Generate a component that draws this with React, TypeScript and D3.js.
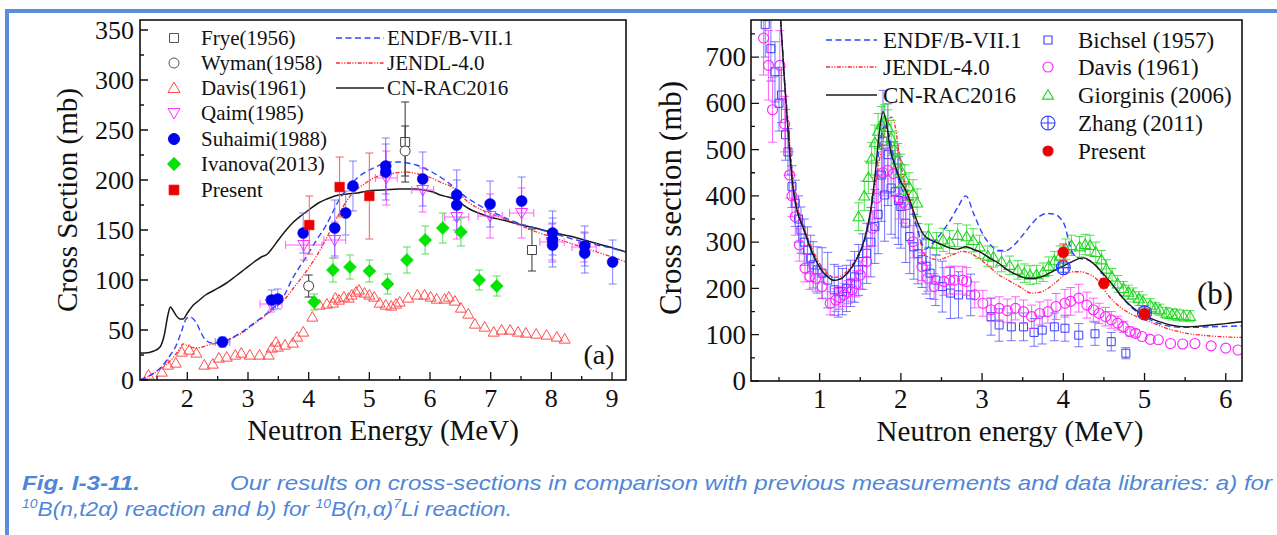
import React, { useEffect, useRef } from "react";
import * as d3 from "d3";

// ================= Panel (a): 10B(n,t2α) =================
const aXDomain: [number, number] = [1.22, 9.23];
const aYDomain: [number, number] = [0, 360];
const aXTicks = [2, 3, 4, 5, 6, 7, 8, 9];
const aXMinor = [1.5, 2.5, 3.5, 4.5, 5.5, 6.5, 7.5, 8.5];
const aYTicks = [0, 50, 100, 150, 200, 250, 300, 350];
const aYMinor = [25, 75, 125, 175, 225, 275, 325];

// [E, sigma, dSigma, dE]
const fryeA = [[5.59, 238, 40, 0], [7.68, 130, 21, 0]];
const wymanA = [[4.0, 94, 11, 0.06], [5.59, 229, 25, 0]];
// [E, sigma]
const davisA = [
  [1.36, 5], [1.58, 8], [1.68, 15], [1.81, 17], [1.91, 28], [2.03, 30], [2.15, 27], [2.28, 15],
  [2.42, 16], [2.52, 22], [2.65, 23], [2.79, 25], [2.89, 27], [3.03, 25], [3.19, 25], [3.34, 25],
  [3.39, 32], [3.46, 38], [3.49, 33], [3.61, 35], [3.74, 37], [3.81, 43], [3.91, 48], [4.06, 63],
  [4.18, 75], [4.30, 76], [4.40, 77], [4.44, 82], [4.50, 80], [4.58, 83], [4.66, 82], [4.71, 85],
  [4.78, 88], [4.83, 90], [4.92, 87], [5.00, 85], [5.08, 83], [5.17, 77], [5.27, 75], [5.36, 74],
  [5.44, 76], [5.50, 78], [5.64, 82], [5.79, 85], [5.91, 85], [6.01, 83], [6.11, 81], [6.24, 81],
  [6.31, 83], [6.41, 79], [6.51, 72], [6.63, 66], [6.74, 56], [6.90, 53], [7.05, 48], [7.18, 50],
  [7.32, 50], [7.45, 48], [7.58, 47], [7.75, 46], [7.92, 45], [8.09, 43], [8.22, 41],
];
const qaimA = [
  [3.38, 76, 8, 0.18], [3.92, 135, 15, 0.3], [4.43, 140, 18, 0.18], [5.28, 202, 27, 0.18],
  [5.88, 190, 22, 0.18], [6.44, 163, 22, 0.2], [6.99, 164, 22, 0.2], [7.51, 167, 25, 0.2],
  [8.01, 138, 18, 0.2], [8.54, 133, 15, 0.2],
];
const suhaimiA = [
  [2.58, 38, 5, 0.12], [3.39, 80, 10, 0.08], [3.49, 81, 10, 0.08], [3.91, 147, 20, 0.05],
  [4.43, 152, 28, 0.05], [4.61, 167, 22, 0.05], [4.73, 194, 25, 0.05], [5.27, 214, 28, 0.05],
  [5.27, 208, 28, 0.05], [5.88, 201, 27, 0.05], [6.44, 185, 25, 0.05], [6.44, 175, 25, 0.05],
  [6.99, 176, 23, 0.05], [7.51, 179, 24, 0.05], [8.02, 147, 22, 0.05], [8.02, 140, 22, 0.05],
  [8.02, 135, 22, 0.05], [8.55, 134, 20, 0.05], [8.55, 127, 20, 0.05], [9.01, 118, 22, 0.05],
];
const ivanovaA = [
  [4.09, 78, 8], [4.40, 110, 12], [4.68, 113, 12], [5.0, 109, 11], [5.30, 96, 10], [5.62, 120, 13],
  [5.92, 140, 14], [6.21, 152, 15], [6.51, 148, 14], [6.81, 100, 10], [7.1, 94, 10],
];
const presentA = [[4.01, 155, 29], [4.51, 193, 30], [5.0, 184, 43]];

const endfA = [
  [1.22, 0], [1.3, 2], [1.45, 7], [1.6, 15], [1.72, 25], [1.82, 35], [1.9, 48], [1.97, 60], [2.03, 63],
  [2.1, 61], [2.16, 56], [2.22, 48], [2.3, 40], [2.4, 37], [2.55, 37], [2.7, 41], [2.9, 48], [3.1, 57],
  [3.3, 66], [3.45, 74], [3.6, 85], [3.72, 100], [3.85, 113], [3.95, 122], [4.13, 140], [4.3, 156],
  [4.39, 167], [4.5, 180], [4.66, 193], [4.8, 202], [4.94, 208], [5.1, 213], [5.21, 216], [5.35, 218],
  [5.49, 218], [5.63, 217], [5.77, 215], [5.9, 212], [6.03, 208], [6.17, 203], [6.31, 197], [6.45, 190],
  [6.59, 183], [6.72, 178], [6.86, 173], [7.1, 166], [7.4, 158], [7.67, 153], [7.95, 148], [8.23, 143],
  [8.6, 137], [9.05, 131], [9.23, 128],
];
const jendlA = [
  [1.22, 0], [1.4, 5], [1.55, 11], [1.7, 18], [1.8, 25], [1.88, 32], [1.93, 36], [1.98, 35], [2.05, 33],
  [2.15, 32], [2.25, 33], [2.35, 35], [2.5, 37], [2.7, 41], [2.9, 47], [3.1, 56], [3.3, 65], [3.5, 75],
  [3.65, 84], [3.75, 92], [3.88, 102], [4.0, 112], [4.12, 123], [4.25, 137], [4.39, 153], [4.5, 166],
  [4.66, 182], [4.8, 191], [4.94, 197], [5.07, 202], [5.21, 205], [5.4, 207], [5.6, 208], [5.8, 206],
  [6.03, 202], [6.2, 197], [6.36, 193], [6.5, 185], [6.65, 177], [6.86, 170], [7.1, 164], [7.4, 157],
  [7.67, 150], [8.0, 143], [8.25, 138], [8.5, 133], [8.75, 128], [9.05, 122], [9.23, 118],
];
const cnracA = [
  [1.22, 27], [1.3, 27], [1.45, 29], [1.55, 33], [1.62, 45], [1.68, 65], [1.72, 73], [1.76, 70],
  [1.81, 65], [1.88, 61], [1.93, 61], [2.0, 67], [2.1, 75], [2.2, 80], [2.3, 85], [2.45, 90],
  [2.62, 96], [2.8, 104], [2.95, 111], [3.1, 118], [3.22, 123], [3.32, 126], [3.39, 131], [3.5, 140],
  [3.63, 150], [3.75, 158], [3.89, 165], [4.0, 170], [4.16, 177], [4.3, 181], [4.43, 184], [4.63, 186],
  [4.8, 187], [4.97, 189], [5.2, 190], [5.5, 191], [5.75, 191], [5.9, 190], [6.05, 188], [6.17, 185],
  [6.3, 183], [6.44, 180], [6.55, 175], [6.65, 171], [6.8, 167], [6.98, 163], [7.2, 160], [7.45, 156],
  [7.8, 151], [8.06, 147], [8.3, 144], [8.6, 139], [8.9, 134], [9.23, 128],
];

// ================= Panel (b): 10B(n,α)7Li =================
const bXDomain: [number, number] = [0.155, 6.2];
const bYDomain: [number, number] = [0, 780];
const bXTicks = [1, 2, 3, 4, 5, 6];
const bXMinor = [0.5, 1.5, 2.5, 3.5, 4.5, 5.5];
const bYTicks = [0, 100, 200, 300, 400, 500, 600, 700];
const bYMinor = [50, 150, 250, 350, 450, 550, 650, 750];

const bichselB = [
  [0.33, 770, 70], [0.40, 718, 70], [0.45, 668, 65], [0.50, 600, 60], [0.53, 618, 60], [0.58, 532, 55],
  [0.61, 495, 50], [0.66, 420, 45], [0.70, 384, 50], [0.74, 350, 50], [0.77, 326, 50], [0.81, 300, 50],
  [0.85, 283, 50], [0.89, 265, 50], [0.92, 251, 50], [0.97, 240, 50], [1.03, 233, 55], [1.10, 218, 60],
  [1.18, 197, 55], [1.23, 193, 55], [1.28, 193, 50], [1.33, 200, 50], [1.38, 211, 50], [1.43, 225, 55],
  [1.48, 240, 55], [1.53, 258, 60], [1.58, 276, 65], [1.63, 300, 75], [1.68, 334, 80], [1.72, 360, 85],
  [1.76, 445, 100], [1.78, 518, 110], [1.80, 402, 100], [1.84, 489, 110], [1.88, 417, 100], [1.93, 409, 100],
  [1.97, 390, 95], [2.00, 377, 90], [2.06, 341, 85], [2.11, 312, 80], [2.16, 290, 70], [2.21, 275, 65],
  [2.26, 262, 60], [2.31, 248, 60], [2.36, 233, 55], [2.43, 218, 55], [2.51, 204, 55], [2.61, 190, 55],
  [2.71, 186, 50], [2.86, 186, 45], [3.11, 139, 40], [3.21, 121, 35], [3.36, 117, 30], [3.51, 117, 30],
  [3.64, 105, 30], [3.74, 110, 30], [3.89, 117, 30], [4.02, 114, 28], [4.19, 99, 25], [4.39, 102, 25],
  [4.59, 85, 20], [4.77, 60, 12],
];
const davisB = [
  [0.31, 741, 80], [0.37, 682, 75], [0.42, 586, 70], [0.51, 682, 75], [0.57, 555, 60], [0.63, 445, 50],
  [0.66, 400, 45], [0.70, 355, 40], [0.75, 294, 35], [0.82, 244, 30], [0.88, 226, 28], [0.95, 222, 28],
  [1.03, 204, 25], [1.13, 168, 25], [1.20, 175, 25], [1.25, 180, 25], [1.30, 186, 25], [1.35, 192, 25],
  [1.40, 197, 25], [1.45, 210, 28], [1.50, 229, 30], [1.58, 258, 32], [1.65, 330, 38], [1.70, 395, 45],
  [1.78, 450, 50], [1.84, 455, 50], [1.91, 448, 50], [1.98, 395, 45], [2.03, 386, 45], [2.06, 380, 45],
  [2.15, 301, 35], [2.26, 247, 30], [2.33, 222, 28], [2.41, 204, 28], [2.53, 215, 30], [2.60, 218, 30],
  [2.66, 218, 30], [2.76, 218, 30], [2.81, 215, 30], [2.91, 186, 28], [3.01, 168, 28], [3.11, 154, 25],
  [3.21, 157, 25], [3.31, 152, 25], [3.41, 157, 25], [3.51, 150, 25], [3.61, 139, 25], [3.71, 146, 25],
  [3.81, 150, 25], [3.91, 161, 28], [4.02, 168, 30], [4.09, 172, 30], [4.19, 179, 30], [4.29, 164, 28],
  [4.37, 154, 25], [4.44, 146, 22], [4.52, 139, 20], [4.59, 132, 18], [4.67, 125, 15], [4.74, 117, 12],
  [4.82, 107, 10], [4.89, 103, 8], [4.97, 96, 0], [5.07, 90, 0], [5.17, 89, 0], [5.32, 81, 0],
  [5.47, 80, 0], [5.62, 81, 0], [5.82, 76, 0], [6.00, 71, 0], [6.15, 67, 0],
];
const giorginisB = [
  [1.48, 355, 30], [1.55, 400, 32], [1.60, 440, 35], [1.64, 480, 35], [1.68, 515, 38], [1.72, 540, 38],
  [1.76, 555, 38], [1.80, 562, 35], [1.84, 548, 38], [1.88, 525, 38], [1.92, 500, 38], [1.96, 478, 35],
  [2.00, 455, 35], [2.05, 435, 32], [2.10, 420, 30], [2.15, 405, 30], [2.20, 385, 30],
  [2.34, 314, 25], [2.44, 296, 25], [2.52, 305, 25], [2.60, 300, 25], [2.70, 315, 25], [2.81, 312, 25],
  [2.89, 304, 25], [2.97, 290, 25], [3.07, 270, 22], [3.14, 268, 22], [3.24, 258, 22], [3.34, 250, 20],
  [3.44, 240, 20], [3.52, 233, 20], [3.59, 229, 20], [3.67, 230, 20], [3.75, 235, 20], [3.82, 248, 20],
  [3.89, 260, 20], [3.96, 270, 22], [4.03, 285, 22], [4.10, 293, 22], [4.20, 290, 22], [4.27, 295, 22],
  [4.33, 293, 22], [4.40, 278, 22], [4.47, 262, 20], [4.53, 242, 20], [4.60, 225, 18], [4.67, 210, 18],
  [4.74, 200, 15], [4.80, 192, 15], [4.86, 186, 15], [4.93, 178, 15], [4.98, 172, 14], [5.07, 164, 14],
  [5.13, 158, 12], [5.19, 154, 12], [5.27, 147, 12], [5.34, 144, 12], [5.40, 143, 12], [5.48, 141, 12],
  [5.56, 140, 12],
];
const zhangB = [[4.0, 245, 10, 0.06], [5.0, 147, 8, 0.06]];
const presentB = [[4.0, 278, 18], [4.5, 211, 10], [5.0, 145, 10]];

const endfB = [
  [0.48, 880], [0.52, 780], [0.57, 640], [0.62, 520], [0.67, 420], [0.72, 370], [0.8, 330], [0.88, 290],
  [0.95, 262], [1.02, 240], [1.1, 225], [1.17, 218], [1.25, 220], [1.35, 234], [1.45, 260], [1.55, 300],
  [1.62, 355], [1.68, 430], [1.74, 510], [1.8, 550], [1.85, 535], [1.9, 490], [1.95, 450], [2.0, 420],
  [2.1, 385], [2.2, 330], [2.3, 285], [2.4, 300], [2.5, 320], [2.6, 345], [2.7, 375], [2.8, 400],
  [2.9, 360], [3.0, 320], [3.1, 295], [3.2, 282], [3.3, 282], [3.4, 295], [3.5, 315], [3.6, 337],
  [3.7, 355], [3.8, 362], [3.9, 360], [3.97, 350], [4.02, 335], [4.07, 300], [4.12, 275], [4.2, 265],
  [4.3, 262], [4.4, 250], [4.5, 228], [4.62, 205], [4.72, 182], [4.82, 162], [4.92, 148], [5.02, 137],
  [5.12, 128], [5.22, 122], [5.32, 118], [5.45, 116], [5.6, 116], [5.8, 117], [6.0, 118], [6.2, 119],
];
const jendlB = [
  [0.48, 880], [0.52, 780], [0.58, 630], [0.63, 520], [0.68, 420], [0.73, 375], [0.8, 335], [0.88, 298],
  [0.95, 270], [1.02, 248], [1.1, 232], [1.17, 224], [1.25, 226], [1.35, 240], [1.45, 265], [1.55, 305],
  [1.63, 365], [1.7, 440], [1.77, 510], [1.83, 555], [1.88, 570], [1.93, 550], [1.98, 490], [2.03, 440],
  [2.1, 400], [2.2, 330], [2.3, 272], [2.46, 262], [2.6, 270], [2.76, 280], [2.9, 272], [2.96, 265],
  [3.1, 245], [3.2, 230], [3.31, 219], [3.45, 205], [3.61, 190], [3.72, 192], [3.81, 200], [3.92, 215],
  [4.02, 230], [4.12, 236], [4.22, 236], [4.3, 232], [4.37, 226], [4.45, 212], [4.52, 193], [4.62, 172],
  [4.72, 157], [4.82, 146], [4.92, 138], [5.02, 131], [5.12, 124], [5.22, 117], [5.32, 111], [5.42, 107],
  [5.52, 103], [5.7, 99], [5.92, 96], [6.2, 94],
];
const cnracB = [
  [0.48, 880], [0.52, 780], [0.57, 640], [0.62, 520], [0.67, 420], [0.72, 370], [0.8, 330], [0.88, 290],
  [0.95, 262], [1.02, 240], [1.1, 225], [1.17, 217], [1.25, 220], [1.35, 235], [1.45, 262], [1.55, 305],
  [1.62, 360], [1.68, 440], [1.73, 530], [1.78, 582], [1.82, 560], [1.87, 500], [1.9, 480], [1.95, 455],
  [2.0, 430], [2.05, 415], [2.1, 395], [2.15, 370], [2.2, 345], [2.3, 312], [2.46, 298], [2.61, 287],
  [2.7, 285], [2.8, 290], [2.9, 284], [2.96, 280], [3.1, 265], [3.2, 255], [3.31, 240], [3.45, 228],
  [3.56, 222], [3.65, 222], [3.76, 227], [3.86, 236], [3.96, 245], [4.05, 253], [4.12, 259], [4.2, 265],
  [4.25, 266], [4.3, 263], [4.37, 254], [4.45, 240], [4.52, 226], [4.62, 205], [4.72, 182], [4.82, 164],
  [4.92, 150], [5.02, 140], [5.12, 132], [5.22, 126], [5.32, 121], [5.42, 118], [5.52, 117], [5.65, 118],
  [5.82, 121], [6.0, 124], [6.2, 128],
];

const legendA1 = ["Frye(1956)", "Wyman(1958)", "Davis(1961)", "Qaim(1985)", "Suhaimi(1988)", "Ivanova(2013)", "Present"];
const legendLines = ["ENDF/B-VII.1", "JENDL-4.0", "CN-RAC2016"];
const legendB2 = ["Bichsel (1957)", "Davis (1961)", "Giorginis (2006)", "Zhang  (2011)", "Present"];

const SERIF = "'Liberation Serif', 'Times New Roman', serif";
const SANS = "'Liberation Sans Narrow', 'Liberation Sans', Arial, sans-serif";
const BLUE_FRAME = "#5b8ed8";

const C = {
  endf: "#2b45ff",
  jendl: "#ff2a2a",
  cn: "#1a1a1a",
};

function symPath(kind: string, s: number): string {
  switch (kind) {
    case "tri":
      return `M0,${-s}L${s},${s * 0.75}L${-s},${s * 0.75}Z`;
    case "tridown":
      return `M0,${s}L${s},${-s * 0.75}L${-s},${-s * 0.75}Z`;
    case "diamond":
      return `M0,${-s}L${s},0L0,${s}L${-s},0Z`;
    case "square":
      return `M${-s},${-s}H${s}V${s}H${-s}Z`;
    case "crosscircle":
      return `M${-s},0A${s},${s} 0 1,0 ${s},0A${s},${s} 0 1,0 ${-s},0ZM0,${-s}V${s}M${-s},0H${s}`;
    default:
      return `M${-s},0A${s},${s} 0 1,0 ${s},0A${s},${s} 0 1,0 ${-s},0Z`;
  }
}

function markers(g: any, pts: number[][], x: any, y: any, kind: string, s: number, fill: string, stroke: string, sw = 1.1) {
  g.append("g")
    .selectAll("path")
    .data(pts)
    .join("path")
    .attr("transform", (d: number[]) => `translate(${x(d[0])},${y(d[1])})`)
    .attr("d", symPath(kind, s))
    .attr("fill", fill)
    .attr("stroke", stroke)
    .attr("stroke-width", sw);
}

function errBars(g: any, pts: number[][], x: any, y: any, color: string, cap = 4, sw = 1, opacity = 1) {
  let p = "";
  pts.forEach((d) => {
    const px = x(d[0]);
    const py = y(d[1]);
    const ey = d[2] || 0;
    const ex = d[3] || 0;
    if (ey > 0) {
      const y1 = y(d[1] + ey);
      const y2 = y(d[1] - ey);
      p += `M${px},${y1}V${y2}M${px - cap},${y1}H${px + cap}M${px - cap},${y2}H${px + cap}`;
    }
    if (ex > 0) {
      const x1 = x(d[0] - ex);
      const x2 = x(d[0] + ex);
      p += `M${x1},${py}H${x2}M${x1},${py - cap}V${py + cap}M${x2},${py - cap}V${py + cap}`;
    }
  });
  g.append("path").attr("d", p).attr("fill", "none").attr("stroke", color).attr("stroke-width", sw).attr("opacity", opacity);
}

function curve(g: any, pts: number[][], x: any, y: any, color: string, dash: string | null, sw: number) {
  const line = d3.line<number[]>().x((d) => x(d[0])).y((d) => y(d[1])).curve(d3.curveMonotoneX);
  const p = g.append("path").attr("d", line(pts)).attr("fill", "none").attr("stroke", color).attr("stroke-width", sw);
  if (dash) p.attr("stroke-dasharray", dash);
}

type Box = { left: number; right: number; top: number; bottom: number };

function frame(svg: any, x: any, y: any, box: Box, xt: number[], xm: number[], yt: number[], ym: number[], fs: number, xBase: number, yGap: number) {
  const g = svg.append("g");
  let p = "";
  xt.forEach((v) => (p += `M${x(v)},${box.bottom}V${box.bottom - 8}`));
  xm.forEach((v) => (p += `M${x(v)},${box.bottom}V${box.bottom - 4}`));
  yt.forEach((v) => (p += `M${box.left},${y(v)}H${box.left + 8}`));
  ym.forEach((v) => (p += `M${box.left},${y(v)}H${box.left + 4}`));
  g.append("path").attr("d", p).attr("stroke", "#111").attr("stroke-width", 1.3).attr("fill", "none");
  g.append("rect")
    .attr("x", box.left)
    .attr("y", box.top)
    .attr("width", box.right - box.left)
    .attr("height", box.bottom - box.top)
    .attr("fill", "none")
    .attr("stroke", "#111")
    .attr("stroke-width", 1.6);
  g.selectAll("text.xt")
    .data(xt)
    .join("text")
    .attr("x", (d: number) => x(d))
    .attr("y", xBase)
    .attr("text-anchor", "middle")
    .attr("font-family", SERIF)
    .attr("font-size", fs)
    .attr("fill", "#111")
    .text((d: number) => String(d));
  g.selectAll("text.yt")
    .data(yt)
    .join("text")
    .attr("x", box.left - yGap)
    .attr("y", (d: number) => y(d))
    .attr("dy", "0.34em")
    .attr("text-anchor", "end")
    .attr("font-family", SERIF)
    .attr("font-size", fs)
    .attr("fill", "#111")
    .text((d: number) => String(d));
}

function label(svg: any, text: string, x: number, y: number, fs: number, rotate = false, anchor = "middle") {
  const t = svg
    .append("text")
    .attr("font-family", SERIF)
    .attr("font-size", fs)
    .attr("fill", "#111")
    .attr("text-anchor", anchor)
    .text(text);
  if (rotate) t.attr("transform", `translate(${x},${y}) rotate(-90)`);
  else t.attr("x", x).attr("y", y);
  return t;
}

function draw(svgEl: SVGSVGElement) {
  const svg = d3.select(svgEl);
  svg.selectAll("*").remove();
  svg.append("rect").attr("width", 1277).attr("height", 535).attr("fill", "#fff");

  // page frame
  svg.append("line").attr("x1", 5).attr("x2", 1277).attr("y1", 11).attr("y2", 11).attr("stroke", BLUE_FRAME).attr("stroke-width", 4);
  svg.append("line").attr("x1", 7).attr("x2", 7).attr("y1", 9).attr("y2", 535).attr("stroke", BLUE_FRAME).attr("stroke-width", 4);

  const defs = svg.append("defs");

  // ================= Panel (a) =================
  const A: Box = { left: 140, right: 626, top: 20, bottom: 380 };
  const xa = d3.scaleLinear().domain(aXDomain).range([A.left, A.right]);
  const ya = d3.scaleLinear().domain(aYDomain).range([A.bottom, A.top]);
  defs.append("clipPath").attr("id", "clipA").append("rect").attr("x", A.left).attr("y", A.top).attr("width", A.right - A.left).attr("height", A.bottom - A.top);
  const ga = svg.append("g").attr("clip-path", "url(#clipA)");

  markers(ga, davisA, xa, ya, "tri", 5.5, "none", "#ff4d4d", 1);
  curve(ga, cnracA, xa, ya, C.cn, null, 1.5);
  curve(ga, jendlA, xa, ya, C.jendl, "4,1.5,1.2,1.5,1.2,1.5", 1.3);
  curve(ga, endfA, xa, ya, C.endf, "6,3.5", 1.4);

  errBars(ga, qaimA, xa, ya, "#ff44ff", 4, 1, 0.85);
  markers(ga, qaimA, xa, ya, "tridown", 6, "none", "#ff33ff", 1);
  errBars(ga, suhaimiA, xa, ya, "#5a5aff", 4, 1, 0.75);
  markers(ga, suhaimiA, xa, ya, "circle", 5.5, "#0000f0", "#0000f0", 0.5);
  errBars(ga, ivanovaA, xa, ya, "#44dd44", 4, 1, 0.9);
  markers(ga, ivanovaA, xa, ya, "diamond", 6.5, "#00e600", "#00d000", 0.5);
  errBars(ga, fryeA, xa, ya, "#333", 4, 1);
  markers(ga, fryeA, xa, ya, "square", 4.5, "#fff", "#444", 1);
  errBars(ga, wymanA, xa, ya, "#333", 4, 1);
  markers(ga, wymanA, xa, ya, "circle", 5, "#fff", "#444", 1);
  errBars(ga, presentA, xa, ya, "#ff5a5a", 4, 1);
  markers(ga, presentA, xa, ya, "square", 4.8, "#ee0000", "#ee0000", 0.5);

  frame(svg, xa, ya, A, aXTicks, aXMinor, aYTicks, aYMinor, 26, 407, 6);
  label(svg, "Cross Section (mb)", 77, 200, 29, true);
  label(svg, "Neutron Energy (MeV)", 383, 440, 29);
  label(svg, "(a)", 599, 364, 28);

  // legend (a)
  const legA = svg.append("g");
  const aRows = [38, 63, 88, 113, 139, 164, 190];
  const aKinds: [string, number, string, string][] = [
    ["square", 4.5, "none", "#555"],
    ["circle", 5, "none", "#555"],
    ["tri", 6, "none", "#ff4d4d"],
    ["tridown", 6, "none", "#ff33ff"],
    ["circle", 5.5, "#0000f0", "#0000f0"],
    ["diamond", 6.5, "#00e600", "#00d000"],
    ["square", 4.8, "#ee0000", "#ee0000"],
  ];
  legendA1.forEach((name, i) => {
    const [k, s, f, st] = aKinds[i];
    legA.append("path").attr("transform", `translate(174,${aRows[i]})`).attr("d", symPath(k, s)).attr("fill", f).attr("stroke", st).attr("stroke-width", 1);
    legA.append("text").attr("x", 201).attr("y", aRows[i] + 7).attr("font-family", SERIF).attr("font-size", 21).attr("fill", "#111").text(name);
  });
  const lineStyles: [string, string | null, number][] = [
    [C.endf, "6,3.5", 1.4],
    [C.jendl, "4,1.5,1.2,1.5,1.2,1.5", 1.3],
    [C.cn, null, 1.5],
  ];
  legendLines.forEach((name, i) => {
    const [c, dash, w] = lineStyles[i];
    const l = legA.append("line").attr("x1", 336).attr("x2", 384).attr("y1", aRows[i]).attr("y2", aRows[i]).attr("stroke", c).attr("stroke-width", w);
    if (dash) l.attr("stroke-dasharray", dash);
    legA.append("text").attr("x", 387).attr("y", aRows[i] + 7).attr("font-family", SERIF).attr("font-size", 21).attr("fill", "#111").text(name);
  });

  // ================= Panel (b) =================
  const B: Box = { left: 751, right: 1242, top: 20, bottom: 381 };
  const xb = d3.scaleLinear().domain(bXDomain).range([B.left, B.right]);
  const yb = d3.scaleLinear().domain(bYDomain).range([B.bottom, B.top]);
  defs.append("clipPath").attr("id", "clipB").append("rect").attr("x", B.left).attr("y", B.top).attr("width", B.right - B.left).attr("height", B.bottom - B.top);
  const gb = svg.append("g").attr("clip-path", "url(#clipB)");

  errBars(gb, bichselB, xb, yb, "#4a4aff", 4.5, 1, 0.75);
  markers(gb, bichselB, xb, yb, "square", 4, "none", "#3b3bff", 1);
  errBars(gb, davisB, xb, yb, "#ff33ff", 4.5, 1, 0.75);
  markers(gb, davisB, xb, yb, "circle", 5, "none", "#ff22ff", 1.1);
  errBars(gb, giorginisB, xb, yb, "#33dd33", 4.5, 1, 0.85);
  markers(gb, giorginisB, xb, yb, "tri", 5.5, "none", "#22d422", 1.1);

  curve(gb, jendlB, xb, yb, C.jendl, "4,1.5,1.2,1.5,1.2,1.5", 1.3);
  curve(gb, endfB, xb, yb, C.endf, "6,3.5", 1.4);
  curve(gb, cnracB, xb, yb, C.cn, null, 1.4);

  errBars(gb, zhangB, xb, yb, "#2a3fff", 4, 1);
  markers(gb, zhangB, xb, yb, "crosscircle", 7, "none", "#2a3fff", 1.2);
  errBars(gb, presentB, xb, yb, "#ff3030", 4, 1);
  markers(gb, presentB, xb, yb, "circle", 5.5, "#ee0000", "#ee0000", 0.5);

  frame(svg, xb, yb, B, bXTicks, bXMinor, bYTicks, bYMinor, 27, 408, 5);
  label(svg, "Cross section (mb)", 681, 198, 31, true);
  label(svg, "Neutron energy (MeV)", 1010, 441, 29);
  label(svg, "(b)", 1215, 304, 31);

  // legend (b)
  const legB = svg.append("g");
  const bRows = [40, 67, 95, 123, 151];
  legendLines.forEach((name, i) => {
    const [c, dash, w] = lineStyles[i];
    const l = legB.append("line").attr("x1", 826).attr("x2", 877).attr("y1", bRows[i]).attr("y2", bRows[i]).attr("stroke", c).attr("stroke-width", w);
    if (dash) l.attr("stroke-dasharray", dash);
    legB.append("text").attr("x", 883).attr("y", bRows[i] + 8).attr("font-family", SERIF).attr("font-size", 23).attr("fill", "#111").text(name);
  });
  const bKinds: [string, number, string, string][] = [
    ["square", 4, "none", "#3b3bff"],
    ["circle", 5, "none", "#ff22ff"],
    ["tri", 5.5, "none", "#22d422"],
    ["crosscircle", 7, "none", "#2a3fff"],
    ["circle", 5, "#ee0000", "#ee0000"],
  ];
  legendB2.forEach((name, i) => {
    const [k, s, f, st] = bKinds[i];
    legB.append("path").attr("transform", `translate(1048,${bRows[i]})`).attr("d", symPath(k, s)).attr("fill", f).attr("stroke", st).attr("stroke-width", 1.1);
    legB.append("text").attr("x", 1078).attr("y", bRows[i] + 8).attr("font-family", SERIF).attr("font-size", 23).attr("fill", "#111").text(name);
  });

  // ================= Caption =================
  const capColor = "#4f86d8";
  svg.append("text").attr("x", 22).attr("y", 490).attr("font-family", SANS).attr("font-size", 21).attr("font-style", "italic").attr("font-weight", "bold").attr("fill", capColor).attr("textLength", 118).attr("lengthAdjust", "spacingAndGlyphs").text("Fig. I-3-11.");
  svg.append("text").attr("x", 230).attr("y", 490).attr("font-family", SANS).attr("font-size", 21).attr("font-style", "italic").attr("fill", capColor).attr("textLength", 1042).attr("lengthAdjust", "spacingAndGlyphs").text("Our results on cross-sections in comparison with previous measurements and data libraries: a) for");
  const l2 = svg.append("text").attr("x", 22).attr("y", 516).attr("font-family", SANS).attr("font-size", 21).attr("font-style", "italic").attr("fill", capColor).attr("textLength", 490).attr("lengthAdjust", "spacingAndGlyphs");
  l2.append("tspan").attr("font-size", 13).attr("dy", -8).text("10");
  l2.append("tspan").attr("dy", 8).text("B(n,t2α) reaction and b) for ");
  l2.append("tspan").attr("font-size", 13).attr("dy", -8).text("10");
  l2.append("tspan").attr("dy", 8).text("B(n,α)");
  l2.append("tspan").attr("font-size", 13).attr("dy", -8).text("7");
  l2.append("tspan").attr("dy", 8).text("Li reaction.");
}

export default function App() {
  const ref = useRef<SVGSVGElement | null>(null);
  useEffect(() => {
    if (ref.current) draw(ref.current);
  }, []);
  return <svg ref={ref} width={1277} height={535} style={{ position: "absolute", left: 0, top: 0, display: "block" }} />;
}
